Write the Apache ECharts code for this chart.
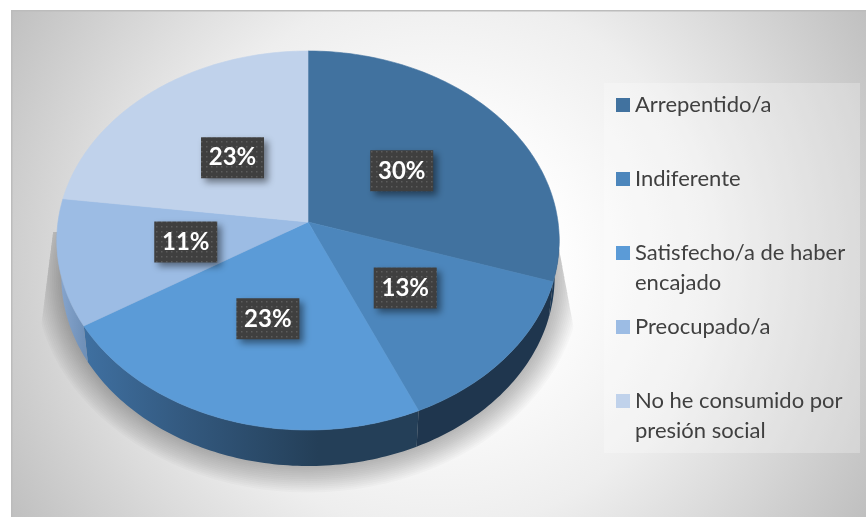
<!DOCTYPE html>
<html>
<head>
<meta charset="utf-8">
<style>html,body{margin:0;padding:0;background:#fff}#c{width:866px;height:518px}</style>
<script src="https://cdn.jsdelivr.net/npm/echarts@6/dist/echarts.min.js"></script>
</head>
<body>
<div id="c"></div>
<script>
const categories = ['Arrepentido/a','Indiferente','Satisfecho/a de haber encajado','Preocupado/a','No he consumido por presión social'];
const values = [30,13.4,22.8,10.8,23];
const colors = ['#41729f','#4c86bc','#5b9bd7','#9cbce4','#c0d2eb'];
const wallStops = [
  [[0,'#1e3a56'],[1,'#1e3a56']],
  [[0,'#1f364e'],[1,'#1f364e']],
  [[0,'#3f70a1'],[0.3,'#33597f'],[0.7,'#243f58'],[1,'#243f58']],
  [[0,'#8aa8d0'],[1,'#6f90b8']],
  [[0,'#9ab7dc'],[1,'#9ab7dc']]
];

const total = values.reduce((a,b)=>a+b,0);
const P = {cx:308, cy:222, a:250, b:187.7, k:0.0976, depth:36, shrink:0.982};
function rim(deg, t){
  const r = deg*Math.PI/180, c = Math.sin(r), s = -Math.cos(r), d = 1-P.k*s;
  const f = t===undefined?1:t;
  return [P.cx+f*P.a*c/d, P.cy+f*P.b*s/d, s];
}
function lowRim(deg){
  const p = rim(deg);
  return [P.cx+(p[0]-P.cx)*P.shrink, p[1]+P.depth];
}
function tile(){
  const t = document.createElement('canvas'); t.width=5; t.height=5;
  const g = t.getContext('2d');
  g.fillStyle='#3f3f3f'; g.fillRect(0,0,5,5);
  g.fillStyle='#5c5c5c'; g.fillRect(1,1,1.5,1.5);
  return t;
}
const labelTile = tile();
function pieItem(params, api){
  const idx = params.seriesIndex-1;
  const v = api.value(0);
  let before = 0;
  for(let i=0;i<idx;i++) before += values[i];
  const a0 = before/total*360, a1 = (before+v)/total*360;
  const top = [[P.cx,P.cy]], wall = [], wallLow = [];
  for(let d=a0;;d+=1){
    const q = Math.min(d,a1), p = rim(q);
    top.push([p[0],p[1]]);
    if(p[2]>=0.05){ wall.push([p[0],p[1]]); wallLow.unshift(lowRim(q)); }
    if(q>=a1) break;
  }
  const col = api.visual('color');
  const kids = [];
  if(wall.length>1){
    const xs = wall.map(p=>p[0]);
    kids.push({type:'polygon', z2:1, shape:{points:wall.concat(wallLow)},
      style:{fill:{type:'linear',global:true,
        x:Math.min(...xs),y:0,x2:Math.max(...xs),y2:0,
        colorStops:wallStops[idx].map(s=>({offset:s[0],color:s[1]}))}}});
  }
  kids.push({type:'polygon', z2:2, shape:{points:top},
    style:{fill:col, stroke:col, lineWidth:0.6}});
  const mid = rim((a0+a1)/2, 0.49), bw=63, bh=41;
  kids.push({type:'rect', z2:10, shape:{x:mid[0]-bw/2,y:mid[1]-bh/2,width:bw,height:bh},
    style:{fill:{image:labelTile,repeat:'repeat'},shadowColor:'rgba(0,0,0,0.45)',shadowBlur:7,shadowOffsetX:4,shadowOffsetY:4}});
  kids.push({type:'text', z2:11, x:mid[0], y:mid[1],
    style:{text:Math.round(v/total*100)+'%',fill:'#fff',
      font:'bold 24px Lato, "Open Sans", sans-serif',align:'center',verticalAlign:'middle'}});
  return {type:'group',children:kids};
}
function wrap(name){
  const lines=[]; let cur='';
  name.split(' ').forEach(w=>{
    if(cur && (cur+' '+w).length>22){lines.push(cur);cur=w;}
    else cur = cur?cur+' '+w:w;
  });
  lines.push(cur);
  return ['',lines[0],lines[1]||''].join('\n');
}
function shadowItem(){
  const layers=[];
  for(let n=14;n>=0;n--){
    const grow=n*1.9, pts=[];
    for(let d=78;d<=282;d+=3){
      const p=lowRim(d);
      const dx=p[0]-P.cx, dy=p[1]-(P.cy+P.depth), len=Math.hypot(dx,dy);
      pts.push([p[0]+dx/len*grow,p[1]+dy/len*grow]);
    }
    layers.push({type:'polygon',z2:0,shape:{points:pts},style:{fill:'rgba(0,0,0,0.02)'}});
  }
  return {type:'group',children:layers,
    clipPath:{type:'polygon',shape:{points:[[53,232],[41,327],[41,518],[576,518],[576,340],[556,232]]}}};
}
const chart = echarts.init(document.getElementById('c'),null,{renderer:'canvas'});
chart.setOption({
  animation:false,
  backgroundColor:'#fff',
  graphic:[
    {type:'rect',z:-3,shape:{x:11,y:10,width:855,height:507},
      style:{fill:{type:'radial',global:true,x:438,y:260,r:500,
        colorStops:[{offset:0,color:'#fff'},{offset:0.22,color:'#fff'},{offset:0.54,color:'#eeeeee'},{offset:0.72,color:'#dcdcdc'},{offset:1,color:'#bfbfbf'}]}}},
    {type:'rect',z:-2,shape:{x:11,y:10,width:855,height:1.5},style:{fill:'#bcbcbc'}},
    {type:'rect',z:-2,shape:{x:11,y:10,width:1.5,height:507},style:{fill:'#bcbcbc'}},
    {type:'rect',z:0,shape:{x:604,y:83,width:256,height:370},style:{fill:'rgba(255,255,255,0.25)'}}
  ],
  legend:{
    orient:'vertical', left:616, top:60, padding:0, itemGap:-16,
    itemWidth:14, itemHeight:14, icon:'rect', selectedMode:false,
    data:categories,
    formatter:wrap,
    textStyle:{color:'#404040',fontFamily:'Lato, "Open Sans", sans-serif',fontSize:22,lineHeight:30}
  },
  series:[{type:'custom',name:'sombra',coordinateSystem:'none',silent:true,data:[[0]],renderItem:shadowItem}]
    .concat(categories.map((name,i)=>({
    type:'custom', name, coordinateSystem:'none',
    itemStyle:{color:colors[i]},
    data:[[values[i]]],
    renderItem:pieItem,
    silent:true
  })))
});
</script>
</body>
</html>
